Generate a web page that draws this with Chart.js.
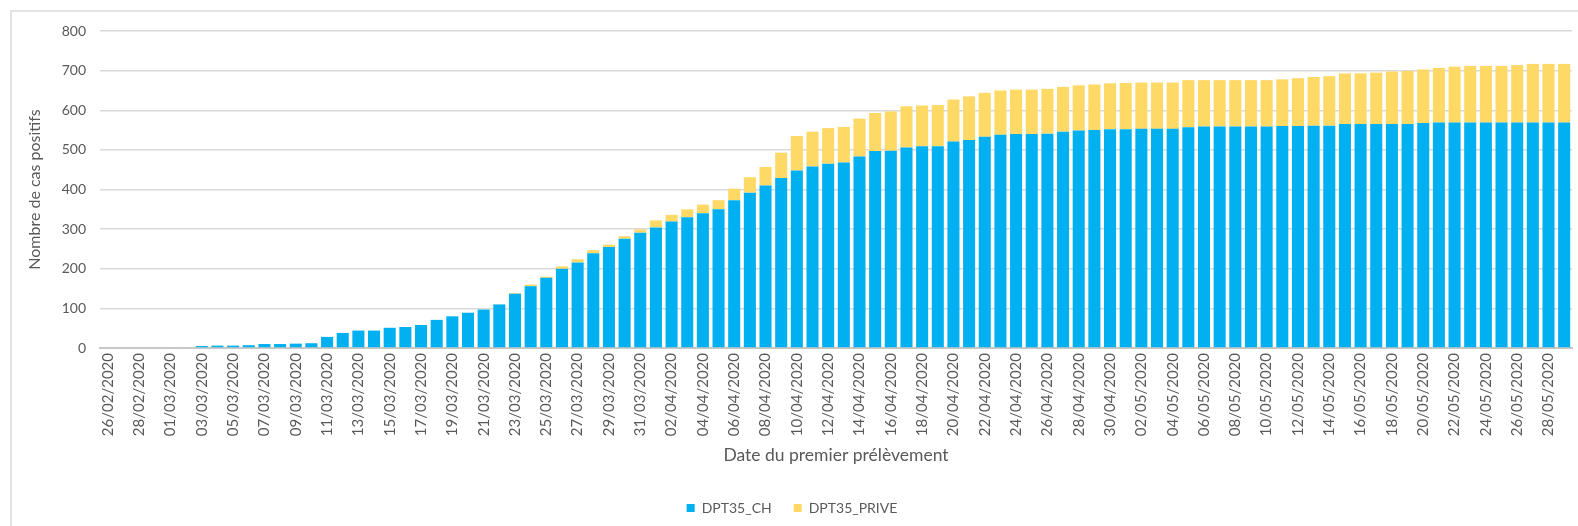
<!DOCTYPE html>
<html>
<head>
<meta charset="utf-8">
<script src="https://cdn.jsdelivr.net/npm/chart.js@4"></script>
<style>
  body { margin: 0; background: #fff; overflow: hidden; }
  #frame { position: absolute; left: 10px; top: 10px; width: 1600px; height: 600px; border: 2px solid #e3e3e3; }
  #chart { position: absolute; left: 0; top: 0; }
</style>
</head>
<body>
<div id="frame"></div>
<canvas id="chart" width="1578" height="526"></canvas>
<script>
// dates of first sample (one bar per day)
const dates = [
  '26/02/2020','27/02/2020','28/02/2020','29/02/2020',
  '01/03/2020','02/03/2020','03/03/2020','04/03/2020','05/03/2020','06/03/2020','07/03/2020','08/03/2020',
  '09/03/2020','10/03/2020','11/03/2020','12/03/2020','13/03/2020','14/03/2020','15/03/2020','16/03/2020',
  '17/03/2020','18/03/2020','19/03/2020','20/03/2020','21/03/2020','22/03/2020','23/03/2020','24/03/2020',
  '25/03/2020','26/03/2020','27/03/2020','28/03/2020','29/03/2020','30/03/2020','31/03/2020',
  '01/04/2020','02/04/2020','03/04/2020','04/04/2020','05/04/2020','06/04/2020','07/04/2020','08/04/2020',
  '09/04/2020','10/04/2020','11/04/2020','12/04/2020','13/04/2020','14/04/2020','15/04/2020','16/04/2020',
  '17/04/2020','18/04/2020','19/04/2020','20/04/2020','21/04/2020','22/04/2020','23/04/2020','24/04/2020',
  '25/04/2020','26/04/2020','27/04/2020','28/04/2020','29/04/2020','30/04/2020',
  '01/05/2020','02/05/2020','03/05/2020','04/05/2020','05/05/2020','06/05/2020','07/05/2020','08/05/2020',
  '09/05/2020','10/05/2020','11/05/2020','12/05/2020','13/05/2020','14/05/2020','15/05/2020','16/05/2020',
  '17/05/2020','18/05/2020','19/05/2020','20/05/2020','21/05/2020','22/05/2020','23/05/2020','24/05/2020',
  '25/05/2020','26/05/2020','27/05/2020','28/05/2020','29/05/2020'
];

// cumulative positive cases, hospital labs
const chValues = [
  0, 0, 0, 0, 2, 2, 5, 6, 6, 7,
  10, 10, 11, 12, 28, 38, 44, 44, 51, 53,
  58, 71, 80, 89, 97, 110, 137, 156, 177, 200,
  216, 239, 255, 276, 291, 304, 319, 330, 340, 350,
  373, 392, 410, 429, 448, 458, 465, 468, 483, 497,
  498, 506, 509, 509, 521, 525, 533, 538, 540, 540,
  541, 546, 549, 550, 552, 552, 553, 553, 553, 557,
  559, 559, 559, 559, 559, 560, 560, 561, 561, 565,
  565, 565, 565, 565, 568, 569, 569, 569, 569, 569,
  569, 569, 569, 569
];

// cumulative positive cases, private labs
const priveValues = [
  0, 0, 0, 0, 0, 0, 0, 0, 0, 0,
  0, 0, 0, 0, 0, 0, 0, 0, 0, 0,
  0, 0, 0, 0, 0, 0, 2, 4, 3, 6,
  8, 8, 6, 6, 8, 18, 17, 20, 22, 23,
  29, 39, 47, 64, 87, 88, 90, 90, 96, 96,
  99, 104, 103, 104, 106, 110, 111, 112, 112, 112,
  113, 113, 114, 115, 116, 117, 117, 117, 117, 119,
  117, 117, 117, 117, 117, 118, 121, 123, 125, 128,
  128, 130, 133, 134, 135, 138, 141, 143, 143, 143,
  145, 148, 148, 148
];

const yTicks = [0, 100, 200, 300, 400, 500, 600, 700, 800];

const textColor = '#595959';
const fontFamily = 'Lato, "Open Sans", sans-serif';

new Chart(document.getElementById('chart'), {
  type: 'bar',
  data: {
    labels: dates,
    datasets: [
      {
        label: 'DPT35_CH',
        data: chValues,
        backgroundColor: '#00B0F0',
        borderWidth: 0
      },
      {
        label: 'DPT35_PRIVE',
        data: priveValues,
        backgroundColor: '#FFD966',
        borderWidth: 0
      }
    ]
  },
  options: {
    responsive: false,
    animation: false,
    devicePixelRatio: 1,
    datasets: {
      bar: {
        categoryPercentage: 1,
        barPercentage: 0.77
      }
    },
    layout: {
      padding: { left: 12, right: 6, top: 31, bottom: 1 }
    },
    plugins: {
      legend: {
        position: 'bottom',
        labels: {
          boxWidth: 8,
          boxHeight: 8,
          padding: 22,
          color: textColor,
          font: { family: fontFamily, size: 14 }
        }
      },
      tooltip: { enabled: false }
    },
    scales: {
      x: {
        stacked: true,
        grid: { display: false, drawTicks: false },
        border: { display: true, color: '#c8c8c8', width: 2 },
        ticks: {
          autoSkip: false,
          minRotation: 90,
          maxRotation: 90,
          padding: 5,
          color: textColor,
          font: { family: fontFamily, size: 15 },
          callback: function(val, idx) {
            return idx % 2 === 0 ? dates[idx] : '';
          }
        },
        title: {
          display: true,
          text: 'Date du premier prélèvement',
          color: textColor,
          font: { family: fontFamily, size: 17.5 },
          padding: { top: 4, bottom: 13 }
        },
        afterFit: function(scale) {
          scale.height = 131;
          scale.paddingLeft = 0;
          scale.paddingRight = 0;
        }
      },
      y: {
        stacked: true,
        min: 0,
        max: 800,
        afterBuildTicks: function(scale) {
          scale.ticks = yTicks.map(v => ({ value: v }));
        },
        grid: { color: '#d9d9d9', lineWidth: 1.5, drawTicks: false },
        border: { display: false },
        ticks: {
          padding: 14,
          color: textColor,
          font: { family: fontFamily, size: 14 }
        },
        title: {
          display: true,
          text: 'Nombre de cas positifs',
          color: textColor,
          font: { family: fontFamily, size: 16 },
          padding: { top: 13, bottom: 0 }
        },
        afterFit: function(scale) {
          scale.width = 88;
        }
      }
    }
  }
});
</script>
</body>
</html>
